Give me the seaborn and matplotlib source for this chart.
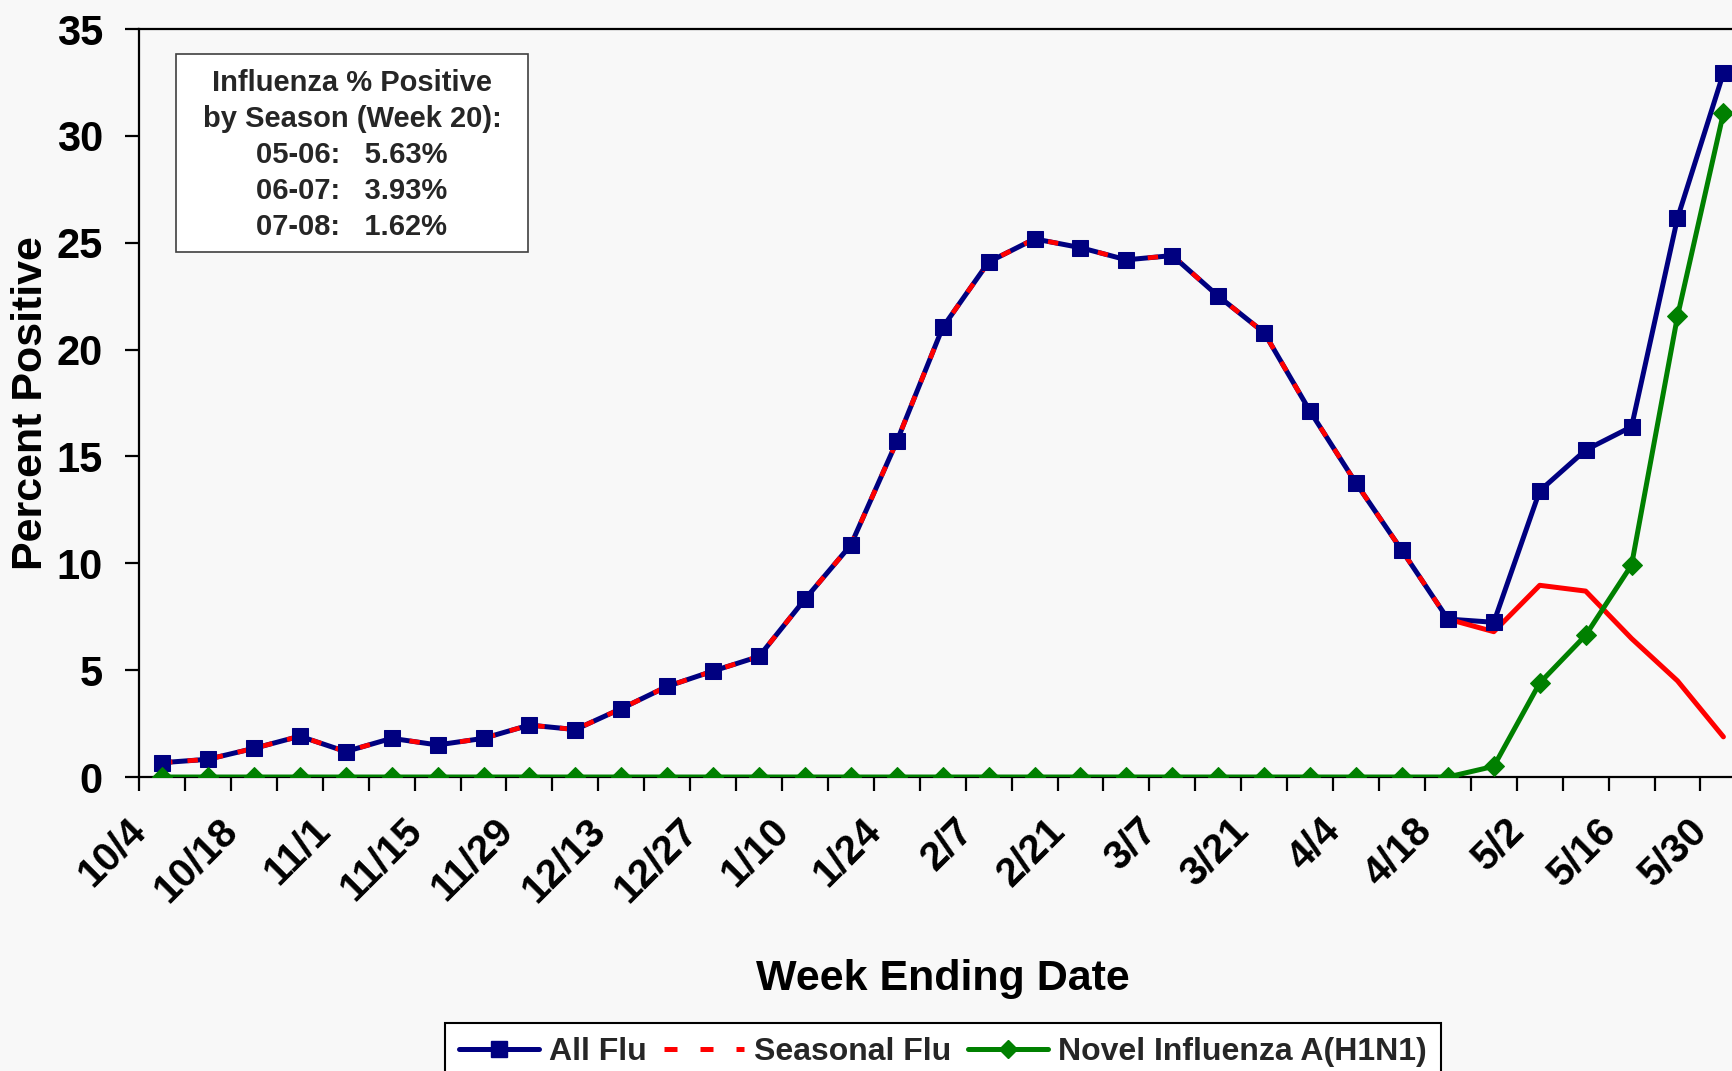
#
# Percent of specimens testing positive for influenza, by week ending date
#

import matplotlib
matplotlib.use('Agg')
import matplotlib.pyplot as plt
import matplotlib.lines as mlines
import matplotlib.patches as mpatches
from matplotlib.transforms import ScaledTranslation

import numpy as np
import pandas as pd
import seaborn as sns

weeks = ['10/4', '10/11', '10/18', '10/25', '11/1', '11/8', '11/15', '11/22',
         '11/29', '12/6', '12/13', '12/20', '12/27', '1/3', '1/10', '1/17',
         '1/24', '1/31', '2/7', '2/14', '2/21', '2/28', '3/7', '3/14', '3/21',
         '3/28', '4/4', '4/11', '4/18', '4/25', '5/2', '5/9', '5/16', '5/23',
         '5/30']

all_flu = [0.67, 0.83, 1.34, 1.91, 1.19, 1.81, 1.50, 1.81, 2.43, 2.22, 3.2,
           4.24, 4.96, 5.64, 8.32, 10.86, 15.7, 21.04, 24.1, 25.18, 24.77,
           24.2, 24.4, 22.5, 20.79, 17.11, 13.75, 10.6, 7.39, 7.24, 13.39,
           15.3, 16.39, 26.15, 32.94]

seasonal_flu = [0.67, 0.83, 1.34, 1.91, 1.19, 1.81, 1.50, 1.81, 2.43, 2.22,
                3.2, 4.24, 4.96, 5.64, 8.32, 10.86, 15.7, 21.04, 24.1, 25.18,
                24.77, 24.2, 24.4, 22.5, 20.79, 17.11, 13.75, 10.6, 7.39,
                6.8, 8.97, 8.7, 6.48, 4.5, 1.88]

novel_h1n1 = [0, 0, 0, 0, 0, 0, 0, 0, 0, 0, 0, 0, 0, 0, 0, 0, 0, 0, 0, 0, 0,
              0, 0, 0, 0, 0, 0, 0, 0, 0.5, 4.4, 6.63, 9.92, 21.56, 31.07]

summary_lines = ['Influenza % Positive', 'by Season (Week 20):',
                 '05-06:   5.63%', '06-07:   3.93%', '07-08:   1.62%']

NAVY = '#000080'
RED = '#ff0000'
GREEN = '#008000'
BG = '#f8f8f8'


def main():
    sns.set_style('white')
    plt.rcParams['font.family'] = ['Liberation Sans', 'DejaVu Sans']
    plt.rcParams['font.weight'] = 'bold'

    df = pd.DataFrame({'week': np.arange(len(weeks)),
                       'All Flu': all_flu,
                       'Seasonal Flu': seasonal_flu,
                       'Novel': novel_h1n1})

    fig = plt.figure(figsize=(17.32, 10.71), dpi=100, facecolor=BG)
    ax = fig.add_axes([0.0803, 0.2745, 0.928, 0.6984])
    ax.set_facecolor(BG)

    dash = (0, (2.2, 3.2))
    # seasonal curve is dashed while it sits on all flu, solid afterwards
    split = weeks.index('4/18')

    sns.lineplot(data=df, x='week', y='All Flu', color=NAVY, lw=3.6,
                 errorbar=None, ax=ax, zorder=2)
    sns.lineplot(data=df.iloc[:split + 1], x='week', y='Seasonal Flu',
                 color=RED, lw=3.4, linestyle=dash, errorbar=None, ax=ax,
                 zorder=3)
    sns.lineplot(data=df.iloc[split:], x='week', y='Seasonal Flu',
                 color=RED, lw=3.6, errorbar=None, ax=ax, zorder=3)
    sns.lineplot(data=df, x='week', y='All Flu', color=NAVY, linestyle='none',
                 marker='s', ms=12, mec=NAVY, errorbar=None, ax=ax, zorder=4)
    sns.lineplot(data=df, x='week', y='Novel', color=GREEN, lw=3.6,
                 marker='D', ms=10.5, mec=GREEN, errorbar=None, ax=ax,
                 zorder=5)

    ax.set_xlim(-0.5, len(weeks) - 0.5)
    ax.set_ylim(0, 35)
    ax.set_yticks(range(0, 36, 5))
    ax.set_xticks(df.week[::2])
    ax.set_xticklabels(weeks[::2], rotation=45, ha='right', va='center',
                       rotation_mode='anchor', fontsize=29, fontweight='bold')
    ax.set_xticks(np.arange(-0.5, len(weeks)), minor=True)
    ax.tick_params(axis='x', which='major', length=0, pad=34,
                   colors='black', bottom=True)
    ax.tick_params(axis='x', which='minor', length=10, width=1.6,
                   direction='out', color='black', bottom=True)
    ax.tick_params(axis='y', length=10, width=1.6, direction='out', pad=16,
                   labelsize=30, colors='black', left=True)
    for lbl in ax.get_yticklabels():
        lbl.set_fontweight('bold')
    offset = ScaledTranslation(-0.22, 0, fig.dpi_scale_trans)
    for lbl in ax.xaxis.get_majorticklabels():
        lbl.set_transform(lbl.get_transform() + offset)

    for side in ax.spines.values():
        side.set_color('black')
        side.set_linewidth(1.6)

    ax.set_xlabel('Week Ending Date', fontsize=31, fontweight='bold',
                  color='black')
    ax.xaxis.label.set_va('center')
    ax.xaxis.set_label_coords(0.5, -0.27)
    ax.set_ylabel('Percent Positive', fontsize=31, fontweight='bold',
                  color='black')
    ax.yaxis.label.set_va('center')
    ax.yaxis.set_label_coords(-0.0672, 0.5)

    # season summary box
    box = mpatches.Rectangle((176 / 1732, 1 - 252 / 1071), 352 / 1732,
                             198 / 1071, transform=fig.transFigure,
                             facecolor='white', edgecolor='#404040', lw=1.2)
    fig.add_artist(box)
    fig.text(352 / 1732, 1 - 155 / 1071, '\n'.join(summary_lines),
             ha='center', va='center', fontsize=21, fontweight='bold',
             linespacing=1.36)

    handles = [
        mlines.Line2D([], [], color=NAVY, lw=3.6, marker='s', ms=11,
                      label='All Flu'),
        mlines.Line2D([], [], color=RED, lw=3.6, linestyle=(0, (2.6, 4.6)),
                      label='Seasonal Flu'),
        mlines.Line2D([], [], color=GREEN, lw=3.6, marker='D', ms=9,
                      label='Novel Influenza A(H1N1)'),
    ]
    leg = fig.legend(handles=handles, loc='upper left',
                     bbox_to_anchor=(445 / 1732, 1 - 1023 / 1071), ncol=3,
                     fontsize=23, handlelength=2.5, handletextpad=0.3,
                     columnspacing=0.55, borderpad=0.45, borderaxespad=0,
                     numpoints=1, frameon=True, fancybox=False,
                     facecolor='white', edgecolor='black', framealpha=1)
    leg.get_frame().set_linewidth(1.5)
    for t in leg.get_texts():
        t.set_fontweight('bold')

    fig.savefig('out.png', dpi=100, facecolor=BG)
    plt.close(fig)


if __name__ == '__main__':
    main()
